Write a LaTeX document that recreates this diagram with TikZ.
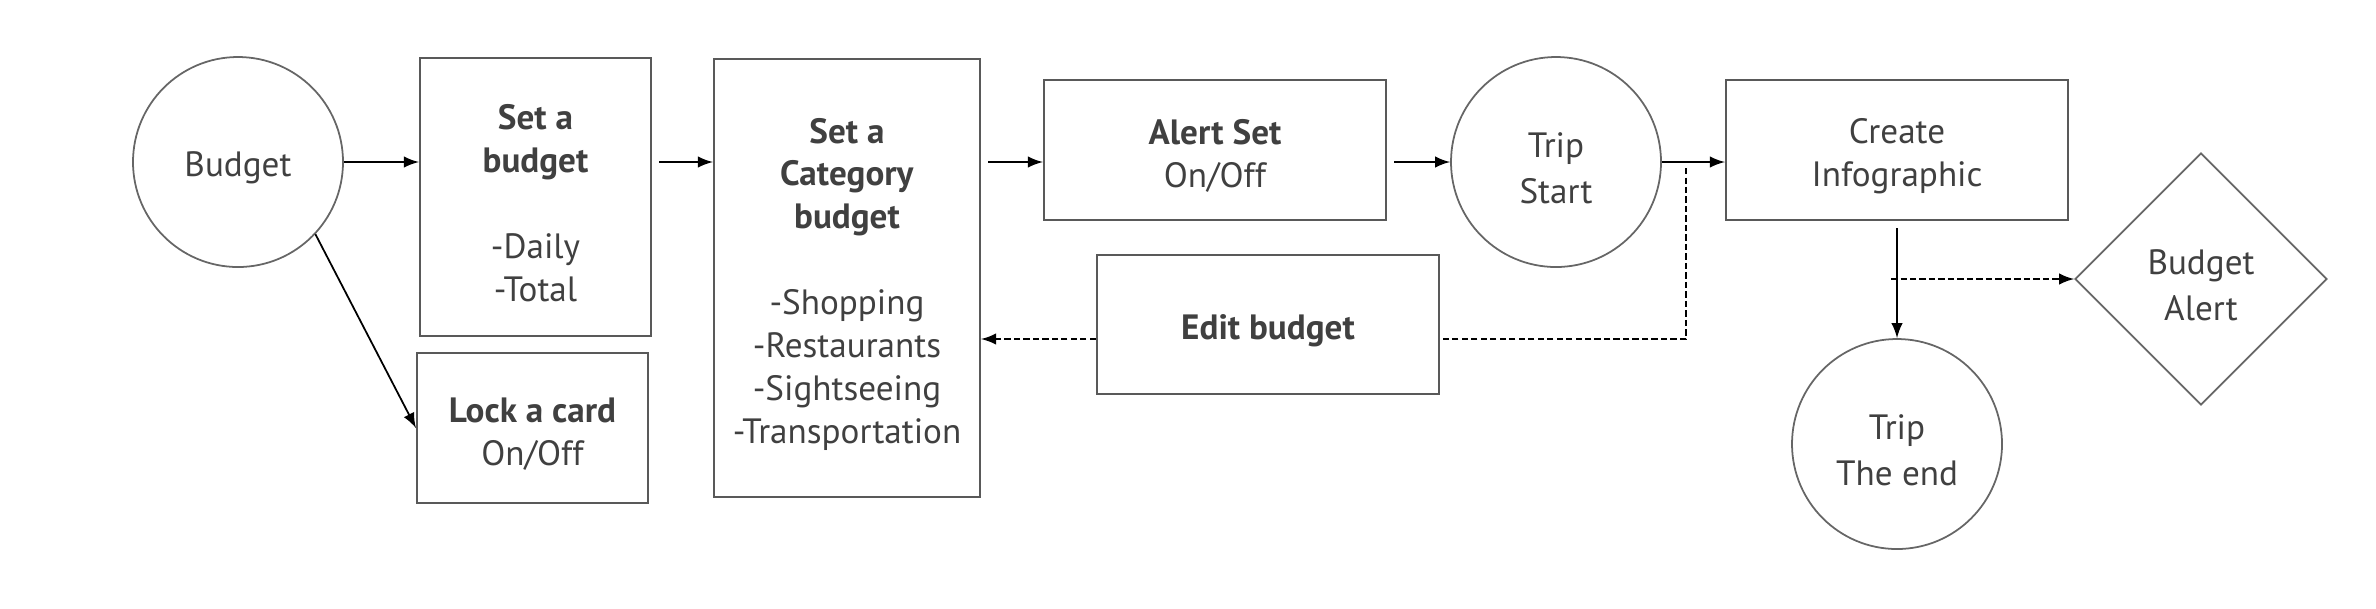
\documentclass[tikz,border=0pt]{standalone}
\usepackage{fontspec}
\setmainfont{PT Sans}
\usepackage{tikz}
\usetikzlibrary{arrows.meta,shapes.geometric}
\newcommand{\liftline}{\rule{0pt}{10.6pt}}

\begin{document}
\begin{tikzpicture}[
    font=\fontsize{10}{12.2}\selectfont, text=black!75,
    bubble/.style={circle, draw=black!60, line width=0.5pt, minimum size=2.1cm, inner sep=0pt, align=center},
    stepbox/.style={rectangle, draw=black!65, line width=0.6pt, inner sep=0pt, align=center},
    decision/.style={diamond, aspect=1, draw=black!60, line width=0.5pt, inner sep=0pt, minimum size=2.52cm, align=center},
    flow/.style={-latex, black, line width=0.5pt},
    back/.style={dash pattern=on 1.8pt off 0.9pt, black, line width=0.5pt}
  ]
                \useasboundingbox (0,0) rectangle (23.76,-6.08);
                % first column
                \node[bubble] (budget) at (2.38,-1.62) {\liftline Budget};
                \node[stepbox, minimum width=2.31cm, minimum height=2.78cm] (setbudget) at (5.355,-1.97)
                    {\liftline\textbf{Set a}\\\textbf{budget}\\[12.2pt]-Daily\\-Total};
                \node[stepbox, minimum width=2.31cm, minimum height=1.50cm] (lockcard) at (5.325,-4.28)
                    {\liftline\textbf{Lock a card}\\On/Off};
                \node[stepbox, minimum width=2.66cm, minimum height=4.38cm] (category) at (8.47,-2.78)
                    {\liftline\textbf{Set a}\\\textbf{Category}\\\textbf{budget}\\[12.2pt]-Shopping\\-Restaurants\\-Sightseeing\\-Transportation};
                \node[stepbox, minimum width=3.42cm, minimum height=1.40cm] (alertset) at (12.15,-1.50)
                    {\liftline\textbf{Alert Set}\\On/Off};
                \node[stepbox, minimum width=3.42cm, minimum height=1.39cm] (editbudget) at (12.68,-3.245)
                    {\liftline\textbf{Edit budget}};
                % trip
                \node[bubble] (tripstart) at (15.56,-1.62) {\liftline Trip\\[1pt]Start};
                \node[stepbox, minimum width=3.42cm, minimum height=1.40cm] (infographic) at (18.97,-1.50)
                    {\liftline Create\\Infographic};
                \node[bubble] (tripend) at (18.97,-4.44) {\liftline Trip\\[1pt]The end};
                \node[decision] (budgetalert) at (22.01,-2.79) {\liftline Budget\\[1pt]Alert};
                % arrows
                \draw[flow] (budget.east) -- (budget.east -| setbudget.west);
                \draw[flow] (budget.-43) -- (lockcard.west);
                \draw[flow] ([xshift=2pt]budget.east -| setbudget.east) -- (budget.east -| category.west);
                \draw[flow] ([xshift=2pt]budget.east -| category.east) -- (budget.east -| alertset.west);
                \draw[flow] ([xshift=2pt]budget.east -| alertset.east) -- (tripstart.west);
                \draw[flow] (tripstart.east) -- (tripstart.east -| infographic.west);
                \draw[flow] ([yshift=-2pt]infographic.south) -- (tripend.north);
                % back to the budget
                \coordinate (split) at (16.86,-1.68);
                \coordinate (turn) at (16.86,-3.39);
                \draw[back] (split) -- (turn) -- (turn -| editbudget.east);
                \draw[back,-latex] (turn -| editbudget.west) -- (turn -| category.east);
                \draw[back,-latex] ([xshift=-0.06cm]infographic.south |- budgetalert.west) -- (budgetalert.west);
\end{tikzpicture}
\end{document}
